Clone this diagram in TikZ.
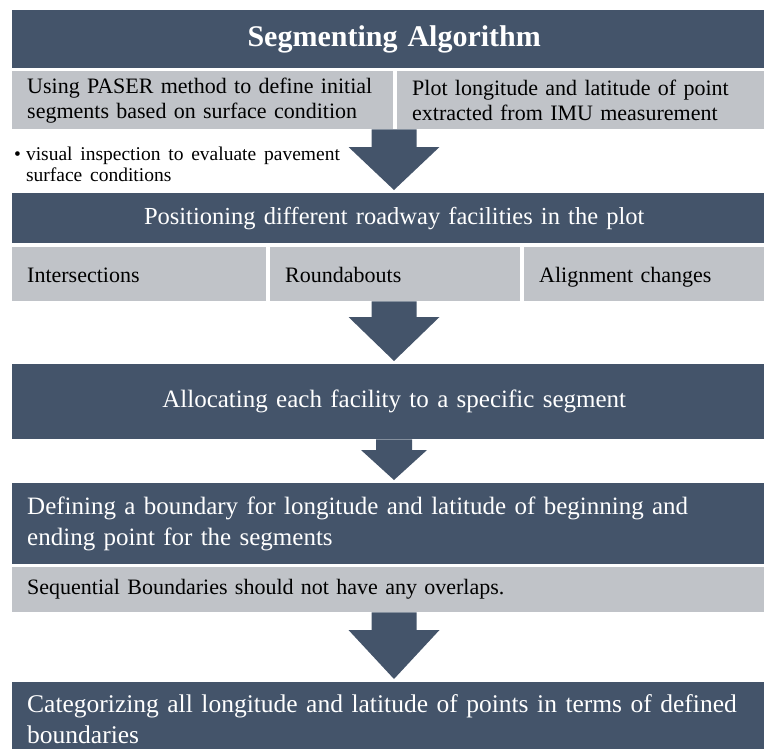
\documentclass[tikz,border=0pt]{standalone}
\usepackage{fontspec}
\setmainfont[WordSpace=1.6]{Liberation Serif}
\usetikzlibrary{calc}
\definecolor{slate}{HTML}{44546A}
\definecolor{lightslate}{HTML}{C0C3C8}

% block arrow: from node, to node, half shaft, half head, head length
\newcommand{\flowarrow}[5]{%
  \fill[slate] ($(axis|-#1.south)+(-#3,0)$) -- ($(axis|-#1.south)+(#3,0)$)
    -- ($(axis|-#2.north)+(#3,#5+3)$) -- ($(axis|-#2.north)+(#4,#5+3)$)
    -- ($(axis|-#2.north)+(0,3)$) -- ($(axis|-#2.north)+(-#4,#5+3)$)
    -- ($(axis|-#2.north)+(-#3,#5+3)$) -- cycle;}

\begin{document}
\begin{tikzpicture}[x=1pt,y=1pt,
    dark/.style={rectangle,fill=slate,text=white,anchor=north west,inner xsep=15pt,inner ysep=0pt},
    light/.style={rectangle,fill=lightslate,text=black,anchor=north west,inner xsep=15pt,inner ysep=0pt,align=left,font=\fontsize{22}{25}\selectfont},
    cell/.style={light,minimum height=54pt,text height=19pt,text depth=3pt}
  ]
  \useasboundingbox (0,0) rectangle (764,-748);
  \clip (0,0) rectangle (764,-748);
  \coordinate (axis) at (394,0);

  % header and first row
  \node[dark,text width=734pt,minimum height=58pt,align=center,font=\fontsize{30}{36}\selectfont\bfseries] (title) at (12,-10) {Segmenting Algorithm};
  \node[light,text width=351pt,minimum height=58pt] (paser) at (12,-71) {Using PASER method to define initial\\segments based on surface condition};
  \node[light,text width=349pt,minimum height=58pt] (plot) at (397,-71) {Plot longitude and latitude of point\\extracted from IMU measurement};
  \node[anchor=north west,inner sep=0pt,align=left,font=\fontsize{19.5}{21}\selectfont] (visual) at (14,-147) {\textbullet\hspace{5pt}visual inspection to evaluate pavement\\\hphantom{\textbullet\hspace{5pt}}surface conditions};

  % facilities
  \node[dark,text width=734pt,minimum height=50pt,align=center,font=\fontsize{24.5}{29}\selectfont] (posit) at (12,-193) {Positioning different roadway facilities in the plot};
  \node[cell,text width=224pt] (inter) at (12,-247) {Intersections};
  \node[cell,text width=220pt] (round) at (270,-247) {Roundabouts};
  \node[cell,text width=222pt] (align) at (524,-247) {Alignment changes};

  \node[dark,text width=734pt,minimum height=75pt,align=center,font=\fontsize{25}{30}\selectfont] (alloc) at (12,-364) {Allocating each facility to a specific segment};

  % boundaries
  \node[dark,text width=734pt,minimum height=81pt,align=left,font=\fontsize{25}{31}\selectfont] (define) at (12,-483) {Defining a boundary for longitude and latitude of beginning and\\ending point for the segments};
  \node[light,text width=734pt,minimum height=45pt] (seq) at (12,-567) {Sequential Boundaries should not have any overlaps.};
  \node[dark,text width=734pt,minimum height=74pt,align=left,font=\fontsize{25.5}{31}\selectfont] (categ) at (12,-682) {Categorizing all longitude and latitude of points in terms of defined\\boundaries};

  \flowarrow{paser}{posit}{22.5}{45.5}{43}
  \flowarrow{round}{alloc}{22.5}{45.5}{44}
  \flowarrow{alloc}{define}{18}{33}{30}
  \flowarrow{seq}{categ}{22.5}{45.5}{49}
\end{tikzpicture}
\end{document}
